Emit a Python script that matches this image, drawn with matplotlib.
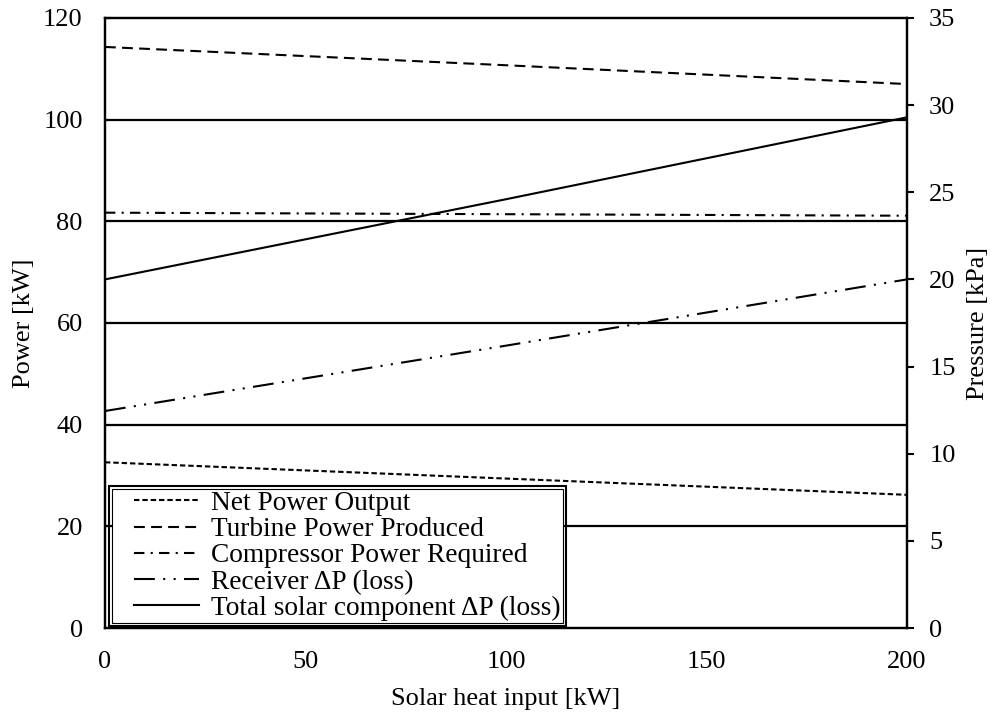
import matplotlib.pyplot as plt
from matplotlib.patches import Rectangle
from matplotlib.legend_handler import HandlerLine2D
import numpy as np

plt.rcParams['font.family'] = ['Liberation Serif', 'DejaVu Serif']

# valores
heat = [0, 100, 200]
net_power = [32.6, 29.4, 26.2]
turbine_power = [114.3, 110.7, 107.0]
compressor_power = [81.7, 81.4, 81.1]
receiver_dp = [12.45, 16.2, 20.0]
total_dp = [20.0, 24.6, 29.3]


class HandlerShifted(HandlerLine2D):
    # linha da legenda comeca um pouco mais para dentro
    def get_xdata(self, legend, xdescent, ydescent, width, height, fontsize):
        xd = np.array([-xdescent + 0.235 * width, -xdescent + width])
        return xd, xd


fs = 19
fig, ax = plt.subplots(figsize=(9.96, 7.13), dpi=100)
fig.subplots_adjust(left=0.1054, right=0.9106, bottom=0.1192, top=0.9748)
ax2 = ax.twinx()

lw = 1.5
for y in [20, 40, 60, 80, 100]:
    ax.axhline(y, color='k', linewidth=1.6, zorder=1)

l1, = ax.plot(heat, net_power, color='k', lw=lw, dashes=(2.6, 1.4), label='Net Power Output')
l2, = ax.plot(heat, turbine_power, color='k', lw=lw, dashes=(5.2, 3), label='Turbine Power Produced')
l3, = ax.plot(heat, compressor_power, color='k', lw=lw, dashes=(5, 3, 1, 3), label='Compressor Power Required')
l4, = ax2.plot(heat, receiver_dp, color='k', lw=lw, dashes=(10, 4, 1, 4, 1, 4), label='Receiver ΔP (loss)')
l5, = ax2.plot(heat, total_dp, color='k', lw=lw, label='Total solar component ΔP (loss)')

ax.set_xlim(0, 200)
ax.set_ylim(0, 120)
ax2.set_ylim(0, 35)
ax.set_xticks([0, 50, 100, 150, 200])
ax.set_yticks(np.arange(0, 121, 20))
ax2.set_yticks(np.arange(0, 36, 5))

ax.tick_params(axis='x', length=0, labelsize=fs, pad=16.5)
ax.tick_params(axis='y', direction='in', length=4, width=1.5, labelsize=fs, pad=16)
ax2.tick_params(axis='y', direction='out', length=5, width=1.5, labelsize=fs, pad=11)

for a in (ax, ax2):
    for s in a.spines.values():
        s.set_linewidth(1.6)

ax.set_xlabel('Solar heat input [kW]', fontsize=fs, labelpad=11)
ax.set_ylabel('Power [kW]', fontsize=fs, labelpad=6)
ax2.set_ylabel('Pressure [kPa]', fontsize=fs, labelpad=8)

handles = [l1, l2, l3, l4, l5]
leg = ax2.legend(handles=handles, loc='lower left', bbox_to_anchor=(0.0087, 0.008),
                 fontsize=19.7, frameon=True, fancybox=False, framealpha=1,
                 handlelength=3.1, handletextpad=0.45, labelspacing=0.04, borderpad=0.08,
                 borderaxespad=0, handler_map={h: HandlerShifted() for h in handles})
leg.get_frame().set_edgecolor('k')
leg.get_frame().set_linewidth(0.8)

# moldura dupla da legenda
fig.canvas.draw()
bb = leg.get_window_extent()
ax2.add_patch(Rectangle((bb.x0 - 3, bb.y0 - 3), bb.width + 6, bb.height + 6,
                        transform=None, fill=False, edgecolor='k', lw=1.5, zorder=10))

fig.savefig('out.png', dpi=100)
